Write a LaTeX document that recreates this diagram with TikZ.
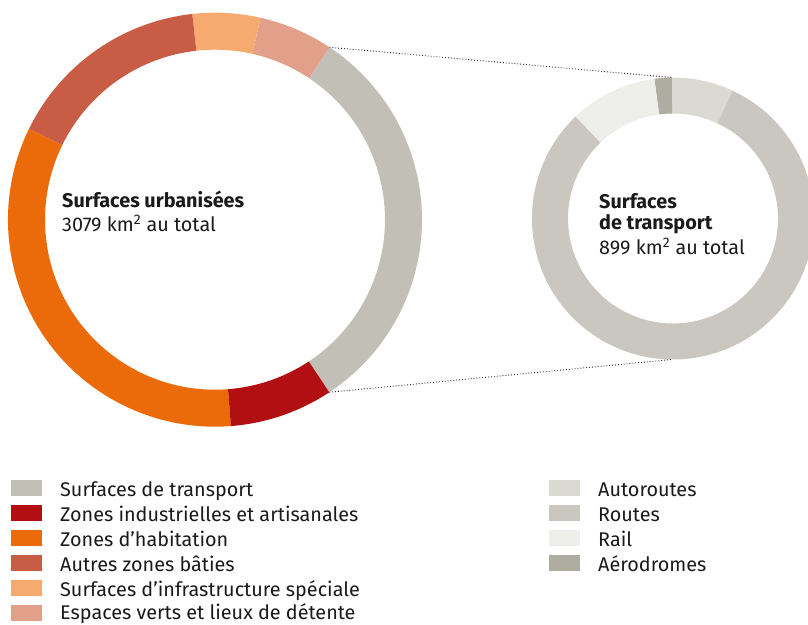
\documentclass[tikz,border=0pt]{standalone}
\usepackage{fontspec}
\setmainfont{Fira Sans}
\usetikzlibrary{positioning}
\definecolor{transport}{HTML}{C1BFB6}
\definecolor{industrie}{HTML}{B20F12}
\definecolor{habitation}{HTML}{EB6A09}
\definecolor{autres}{HTML}{C95C45}
\definecolor{infra}{HTML}{F6AA6F}
\definecolor{verts}{HTML}{E2A08B}
\definecolor{autoroutes}{HTML}{DAD9D2}
\definecolor{routes}{HTML}{C9C7BF}
\definecolor{rail}{HTML}{EEEEEA}
\definecolor{aero}{HTML}{AFADA2}
\definecolor{ink}{HTML}{1A1A1A}

\begin{document}
\begin{tikzpicture}[x=1pt,y=1pt,
    txt/.style={anchor=base west,inner sep=0pt,text=ink,font=\fontsize{19.8}{23}\selectfont},
    head/.style={txt,font=\fontsize{19.8}{23}\selectfont\bfseries},
    key/.style={rectangle,inner sep=0pt,minimum width=31pt,minimum height=16pt,anchor=south west},
    link/.style={dotted,line width=0.9pt,black!85}]
\useasboundingbox (0,0) rectangle (808,624);

% big ring
\begin{scope}[shift={(215,404.3)}]
\fill[transport] (-56.5:207) arc[start angle=-56.5,end angle=56.4,radius=207] -- (56.4:170) arc[start angle=56.4,end angle=-56.5,radius=170] -- cycle;
\fill[verts] (56.4:207) arc[start angle=56.4,end angle=77.3,radius=207] -- (77.3:170) arc[start angle=77.3,end angle=56.4,radius=170] -- cycle;
\fill[infra] (77.3:207) arc[start angle=77.3,end angle=96.3,radius=207] -- (96.3:170) arc[start angle=96.3,end angle=77.3,radius=170] -- cycle;
\fill[autres] (96.3:207) arc[start angle=96.3,end angle=154,radius=207] -- (154:170) arc[start angle=154,end angle=96.3,radius=170] -- cycle;
\fill[habitation] (154:207) arc[start angle=154,end angle=274.4,radius=207] -- (274.4:170) arc[start angle=274.4,end angle=154,radius=170] -- cycle;
\fill[industrie] (274.4:207) arc[start angle=274.4,end angle=303.5,radius=207] -- (303.5:170) arc[start angle=303.5,end angle=274.4,radius=170] -- cycle;
\coordinate (bigtop) at (56.4:207);
\coordinate (bigbottom) at (-56.5:207);
\end{scope}

% small ring
\begin{scope}[shift={(673,405.5)}]
\fill[autoroutes] (65:141) arc[start angle=65,end angle=90.5,radius=141] -- (90.5:105) arc[start angle=90.5,end angle=65,radius=105] -- cycle;
\fill[aero] (90.5:141) arc[start angle=90.5,end angle=97.6,radius=141] -- (97.6:105) arc[start angle=97.6,end angle=90.5,radius=105] -- cycle;
\fill[rail] (97.6:141) arc[start angle=97.6,end angle=133.8,radius=141] -- (133.8:105) arc[start angle=133.8,end angle=97.6,radius=105] -- cycle;
\fill[routes] (133.8:141) arc[start angle=133.8,end angle=425,radius=141] -- (425:105) arc[start angle=425,end angle=133.8,radius=105] -- cycle;
\coordinate (smalltop) at (90.5:141);
\coordinate (smallbottom) at (-90.5:141);
\end{scope}

\draw[link] (bigtop) -- (smalltop);
\draw[link] (bigbottom) -- (smallbottom);

% centre labels
\node[head] (urbtitle) at (62,416) {Surfaces urbanisées};
\node[txt] (urbtotal) at (62,392) {3079 km\textsuperscript{2} au total};
\node[head] (trtitle) at (599,415.7) {Surfaces};
\node[head] (trtitle2) at (599,394) {de transport};
\node[txt] (trtotal) at (599,369) {899 km\textsuperscript{2} au total};

% legend left
\node[key,fill=transport] (k1) at (11,128) {};
\node[key,fill=industrie] (k2) at (11,103) {};
\node[key,fill=habitation] (k3) at (11,77.5) {};
\node[key,fill=autres] (k4) at (11,52.5) {};
\node[key,fill=infra] (k5) at (11,27.5) {};
\node[key,fill=verts] (k6) at (11,2.5) {};
\node[txt] (t1) at (60,128) {Surfaces de transport};
\node[txt] (t2) at (60,103) {Zones industrielles et artisanales};
\node[txt] (t3) at (60,77.5) {Zones d’habitation};
\node[txt] (t4) at (60,52.5) {Autres zones bâties};
\node[txt] (t5) at (60,27.5) {Surfaces d’infrastructure spéciale};
\node[txt] (t6) at (60,5) {Espaces verts et lieux de détente};

% legend right
\node[key,fill=autoroutes] (k7) at (549,128) {};
\node[key,fill=routes] (k8) at (549,103) {};
\node[key,fill=rail] (k9) at (549,77.5) {};
\node[key,fill=aero] (k10) at (549,52.5) {};
\node[txt] (t7) at (598,128) {Autoroutes};
\node[txt] (t8) at (598,103) {Routes};
\node[txt] (t9) at (598,77.5) {Rail};
\node[txt] (t10) at (598,52.5) {Aérodromes};
\end{tikzpicture}
\end{document}
